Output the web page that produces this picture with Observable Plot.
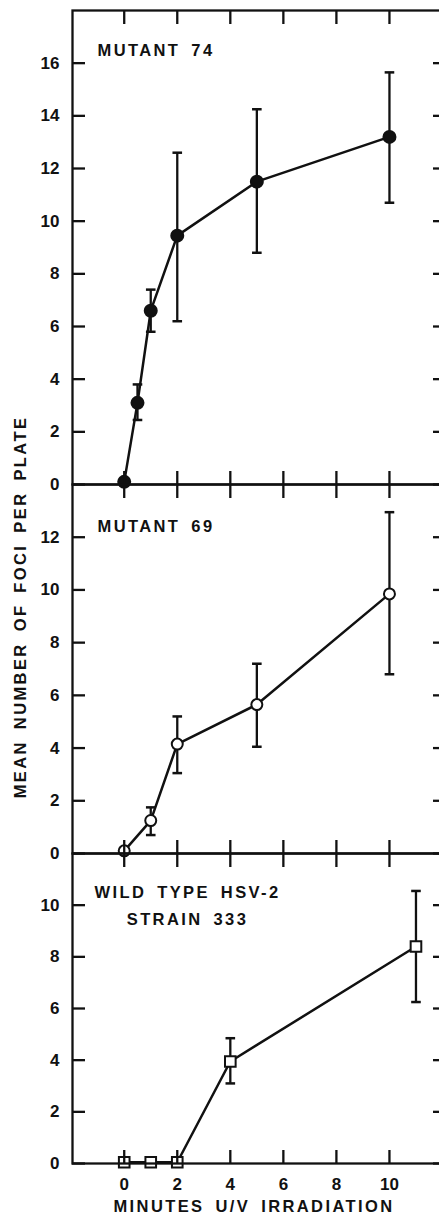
<!DOCTYPE html>
<html><head><meta charset="utf-8">
<script src="https://cdn.jsdelivr.net/npm/d3@7"></script>
<script src="https://cdn.jsdelivr.net/npm/@observablehq/plot@0.6"></script>
<style>
html,body{margin:0;padding:0;background:#fff;overflow:hidden;}
#fig{position:relative;width:439px;height:1216px;overflow:hidden;background:#fff;}
#fig svg{position:absolute;left:0;}
.lbl{position:absolute;font-family:"Liberation Sans",Arial,sans-serif;font-weight:bold;font-size:16.5px;letter-spacing:2.4px;word-spacing:4px;color:#111;white-space:nowrap;line-height:16px}
svg g[aria-label="text"] text{letter-spacing:2.4px;word-spacing:4px}
</style></head><body><div id="fig"></div>
<script>
// ---- data ----
const xTicks = [0, 2, 4, 6, 8, 10];

const minutes74 = [0, 0.5, 1, 2, 5, 10];
const foci74    = [0.1, 3.1, 6.6, 9.45, 11.5, 13.2];
const lo74      = [null, 2.45, 5.8, 6.2, 8.8, 10.7];
const hi74      = [null, 3.8, 7.4, 12.6, 14.25, 15.65];
const yTicks74  = [0, 2, 4, 6, 8, 10, 12, 14, 16];

const minutes69 = [0, 1, 2, 5, 10];
const foci69    = [0.1, 1.25, 4.15, 5.65, 9.85];
const lo69      = [null, 0.7, 3.05, 4.05, 6.8];
const hi69      = [null, 1.75, 5.2, 7.2, 12.95];
const yTicks69  = [0, 2, 4, 6, 8, 10, 12];

const minutesWT = [0, 1, 2, 4, 11];
const fociWT    = [0.05, 0.05, 0.05, 3.95, 8.4];
const loWT      = [null, null, null, 3.1, 6.25];
const hiWT      = [null, null, null, 4.85, 10.55];
const yTicksWT  = [0, 2, 4, 6, 8, 10];

const label74 = "MUTANT 74";
const label69 = "MUTANT 69";
const labelWT = "WILD TYPE HSV-2\nSTRAIN 333";
const yTitle = "MEAN NUMBER OF FOCI PER PLATE";
const xTitle = "MINUTES U/V IRRADIATION";

const ink = "#111";
const font = '"Liberation Sans", Arial, sans-serif';

const rows = (xs, ys, los, his) => xs.map((x, i) => ({x, y: ys[i], lo: los[i], hi: his[i]}));

// horizontal cap symbol for error bars
const capSymbol = {draw(ctx, size) { const r = Math.sqrt(size / Math.PI); ctx.moveTo(-r, 0); ctx.lineTo(r, 0); }};

function panel(cfg) {
  const data = cfg.data;
  const bars = data.filter(d => d.lo != null);
  const marks = [
    Plot.line(data, {x: "x", y: "y", stroke: ink, strokeWidth: 2.5}),
    Plot.ruleX(bars, {x: "x", y1: "lo", y2: "hi", stroke: ink, strokeWidth: 2.3}),
    Plot.dot(bars, {x: "x", y: "hi", symbol: capSymbol, r: 4.8, fill: "none", stroke: ink, strokeWidth: 2.5}),
    Plot.dot(bars, {x: "x", y: "lo", symbol: capSymbol, r: 4.8, fill: "none", stroke: ink, strokeWidth: 2.5}),
    Plot.dot(data, {x: "x", y: "y", symbol: cfg.symbol, r: cfg.r, fill: cfg.fill, stroke: ink, strokeWidth: 2}),
    Plot.frame({stroke: ink, strokeWidth: 2.3}),
    Plot.axisY({anchor: "left", ticks: cfg.yTicks, tickSize: 13, dx: 13, tickFormat: () => "", label: null, strokeWidth: 2.3, stroke: ink}),
    Plot.axisY({anchor: "left", ticks: cfg.yTicks, tickSize: 0, tickPadding: 13, label: null, fill: ink, fontSize: 17}),
    Plot.axisY({anchor: "right", ticks: cfg.yTicks, tickSize: 10, dx: -10, tickFormat: () => "", label: null, strokeWidth: 2.3, stroke: ink}),
    Plot.axisX({anchor: "top", ticks: xTicks, tickSize: 13, dy: 13, tickFormat: () => "", label: null, strokeWidth: 2.3, stroke: ink}),
    Plot.axisX({anchor: "bottom", ticks: xTicks, tickSize: 13, dy: -13, tickFormat: () => "", label: null, strokeWidth: 2.3, stroke: ink}),
    Plot.text([cfg.label], {frameAnchor: "top-left", textAnchor: cfg.textAnchor, lineAnchor: "top", dx: cfg.labelDx, dy: cfg.labelDy, lineHeight: 1.65, fill: ink, fontSize: 16.5, fontWeight: "bold"})
  ];
  if (cfg.showX) {
    marks.push(Plot.axisX({anchor: "bottom", ticks: xTicks, tickSize: 0, tickPadding: 14, label: null, fill: ink, fontSize: 17}));
  }
  const svg = Plot.plot({
    width: 442,
    height: cfg.mt + cfg.plotH + cfg.mb,
    marginLeft: 72, marginRight: 0, marginTop: cfg.mt, marginBottom: cfg.mb,
    x: {domain: [-1.95, 12]},
    y: {domain: cfg.yDomain},
    style: {fontFamily: font, fontSize: "17px", fontWeight: "bold", color: ink, background: "transparent", maxWidth: "none", overflow: "visible"},
    marks
  });
  svg.style.top = cfg.top + "px";
  return svg;
}

const fig = document.getElementById("fig");
fig.appendChild(panel({data: rows(minutes74, foci74, lo74, hi74), yDomain: [0, 18], yTicks: yTicks74,
  symbol: "circle", r: 6, fill: ink, label: label74, textAnchor: "start", labelDx: 25, labelDy: 26,
  mt: 10, plotH: 474, mb: 14, top: 0}));
fig.appendChild(panel({data: rows(minutes69, foci69, lo69, hi69), yDomain: [0, 14], yTicks: yTicks69,
  symbol: "circle", r: 5.5, fill: "#fff", label: label69, textAnchor: "start", labelDx: 25, labelDy: 28,
  mt: 14, plotH: 369, mb: 14, top: 470}));
fig.appendChild(panel({data: rows(minutesWT, fociWT, loWT, hiWT), yDomain: [0, 12], yTicks: yTicksWT,
  symbol: "square", r: 6, fill: "#fff", label: labelWT, textAnchor: "middle", labelDx: 115, labelDy: 25,
  mt: 14, plotH: 310, mb: 53, top: 839, showX: true}));

const yt = document.createElement("div");
yt.className = "lbl"; yt.textContent = yTitle;
yt.style.left = "20px"; yt.style.top = "607px";
yt.style.transform = "translate(-50%,-50%) rotate(-90deg)";
fig.appendChild(yt);

const xt = document.createElement("div");
xt.className = "lbl"; xt.textContent = xTitle;
xt.style.left = "254px"; xt.style.top = "1198px";
xt.style.transform = "translateX(-50%)";
fig.appendChild(xt);
</script>
</body></html>
